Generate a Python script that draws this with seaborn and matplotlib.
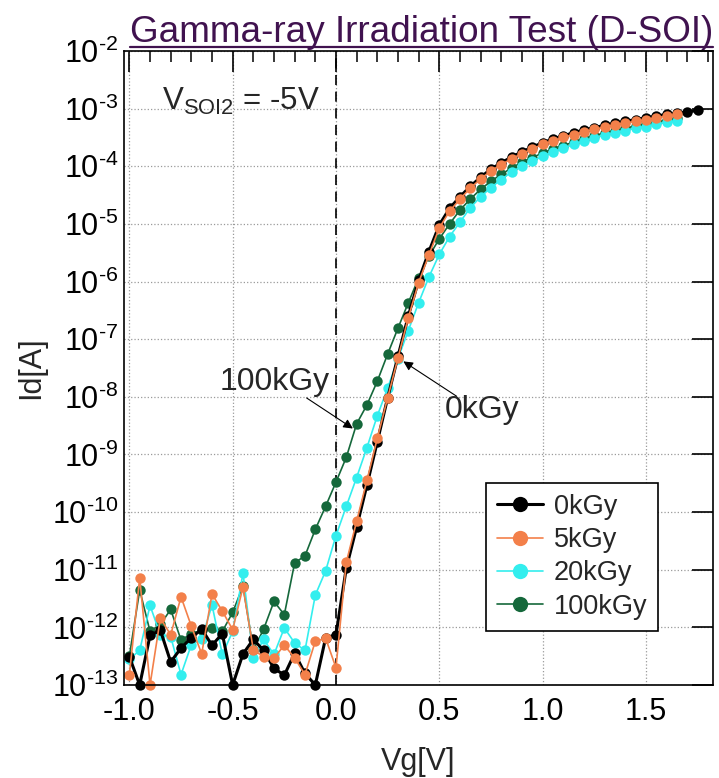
import numpy as np
import pandas as pd
import matplotlib
matplotlib.use("Agg")
import matplotlib.pyplot as plt
import seaborn as sns
from matplotlib.ticker import FixedLocator, FixedFormatter, MultipleLocator
from matplotlib.lines import Line2D

# ---------------- data (log10 of Id[A]) ----------------
vg_black = np.round(np.arange(-20, 36) * 0.05, 2)   # -1.00 .. 1.75 V
vg_other = np.round(np.arange(-20, 34) * 0.05, 2)   # -1.00 .. 1.65 V

log_id_0kGy = [
    -12.51, -13.00, -12.14, -12.05, -12.60, -12.36, -12.18, -12.03, -12.31, -12.11,
    -13.00, -12.46, -12.21, -12.40, -12.71, -12.83, -12.45, -12.80, -13.00, -12.18,
    -12.13, -10.97, -10.26, -9.53, -8.78, -8.02, -7.30, -6.60, -5.98, -5.48,
    -5.02, -4.73, -4.53, -4.35, -4.19, -4.05, -3.94, -3.84, -3.75, -3.67,
    -3.59, -3.53, -3.47, -3.42, -3.37, -3.33, -3.29, -3.25, -3.22, -3.19,
    -3.16, -3.13, -3.10, -3.08, -3.06, -3.03]

log_id_5kGy = [
    -12.82, -11.14, -13.00, -11.84, -12.13, -11.47, -11.98, -12.46, -11.42, -11.72,
    -12.04, -11.30, -12.39, -12.51, -12.53, -12.31, -12.53, -12.82, -12.24, -12.19,
    -12.70, -10.87, -10.16, -9.45, -8.72, -8.02, -7.33, -6.63, -6.02, -5.54,
    -5.07, -4.78, -4.57, -4.38, -4.22, -4.08, -3.97, -3.87, -3.78, -3.70,
    -3.62, -3.56, -3.50, -3.45, -3.40, -3.36, -3.32, -3.28, -3.25, -3.22,
    -3.19, -3.16, -3.13, -3.10]

log_id_20kGy = [
    -12.55, -12.40, -11.62, -12.13, -12.16, -12.82, -12.30, -12.21, -11.61, -12.47,
    -12.07, -11.06, -12.53, -12.21, -12.47, -12.01, -12.27, -12.40, -11.44, -11.02,
    -10.41, -9.90, -9.40, -8.88, -8.33, -7.85, -7.34, -6.85, -6.37, -5.92,
    -5.53, -5.22, -4.97, -4.72, -4.53, -4.37, -4.23, -4.10, -4.00, -3.91,
    -3.83, -3.75, -3.69, -3.62, -3.56, -3.51, -3.46, -3.42, -3.38, -3.34,
    -3.31, -3.27, -3.24, -3.21]

log_id_100kGy = [
    -12.50, -11.35, -12.07, -11.95, -11.69, -12.22, -12.11, -12.05, -12.01, -12.07,
    -11.74, -11.28, -12.39, -12.03, -11.55, -11.78, -10.88, -10.76, -10.30, -9.90,
    -9.48, -9.05, -8.47, -8.14, -7.73, -7.26, -6.81, -6.37, -5.94, -5.56,
    -5.26, -5.00, -4.76, -4.57, -4.40, -4.26, -4.14, -4.03, -3.93, -3.85,
    -3.77, -3.70, -3.64, -3.58, -3.52, -3.47, -3.42, -3.38, -3.34, -3.30,
    -3.27, -3.23, -3.20, -3.17]

doses = ["0kGy", "5kGy", "20kGy", "100kGy"]
colors = {"0kGy": "#000000", "5kGy": "#F3804A", "20kGy": "#33EEEE", "100kGy": "#15683B"}
y_exponents = list(range(-13, -1))
x_ticks = [-1.0, -0.5, 0.0, 0.5, 1.0, 1.5]

frames = []
for name, vg, lg in [("0kGy", vg_black, log_id_0kGy), ("5kGy", vg_other, log_id_5kGy),
                     ("20kGy", vg_other, log_id_20kGy), ("100kGy", vg_other, log_id_100kGy)]:
    frames.append(pd.DataFrame({"Vg": vg, "Id": 10.0 ** np.array(lg), "dose": name}))
df = pd.concat(frames, ignore_index=True)

# ---------------- style ----------------
sns.set_theme(style="white")
plt.rcParams["font.family"] = ["Liberation Sans", "DejaVu Sans"]
plt.rcParams["mathtext.fontset"] = "custom"
plt.rcParams["mathtext.rm"] = "Liberation Sans"
plt.rcParams["mathtext.it"] = "Liberation Sans"
plt.rcParams["mathtext.bf"] = "Liberation Sans:bold"
plt.rcParams["axes.unicode_minus"] = False

fig = plt.figure(figsize=(7.19, 7.78), dpi=100)
fig.patch.set_facecolor("white")
ax = fig.add_axes([124 / 719, 1 - 685 / 778, 589 / 719, 634 / 778])

draw_order = ["100kGy", "20kGy", "0kGy", "5kGy"]
lws = {"0kGy": 2.2, "5kGy": 1.2, "20kGy": 1.2, "100kGy": 1.2}
for d in draw_order:
    sub = df[df["dose"] == d]
    sns.lineplot(data=sub, x="Vg", y="Id", ax=ax, color=colors[d], marker="o",
                 markersize=7.5, markeredgewidth=0, linewidth=lws[d],
                 estimator=None, sort=False, legend=False)
for ln in ax.lines:
    ln.set_clip_on(False)

ax.set_yscale("log")
ax.set_xlim(-1.026, 1.825)
ax.set_ylim(1e-13, 1e-2)

ax.axvline(0.0, color="black", lw=1.2, ls=(0, (6, 4)), zorder=1)

ax.xaxis.set_major_locator(FixedLocator(x_ticks))
ax.xaxis.set_major_formatter(FixedFormatter([f"{v:.1f}" for v in x_ticks]))
ax.xaxis.set_minor_locator(MultipleLocator(0.1))
ax.yaxis.set_major_locator(FixedLocator([10.0 ** e for e in y_exponents]))
ax.yaxis.set_major_formatter(FixedFormatter([r"$10^{\text{-}%d}$" % (-e) for e in y_exponents]))
ax.yaxis.set_minor_locator(FixedLocator([]))

ax.tick_params(which="both", direction="in", top=True, right=True, colors="black")
ax.tick_params(which="major", length=15, width=1.2)
ax.tick_params(which="minor", length=8, width=1.1)
ax.tick_params(axis="x", which="major", labelsize=22, pad=9)
ax.tick_params(axis="y", which="major", labelsize=22, pad=4)
for s in ax.spines.values():
    s.set_color("black")
    s.set_linewidth(1.2)

ax.grid(True, which="major", ls=":", color="#9a9a9a", lw=0.9)
ax.set_axisbelow(True)

ax.set_xlabel("Vg[V]", fontsize=22, labelpad=14)
ax.set_ylabel("Id[A]", fontsize=22, labelpad=4)

# annotations
ax.text(-0.842, 10 ** -3.02, r"V$_{\mathrm{SOI2}}$ = -5V", fontsize=22.5, va="baseline", ha="left")
ax.text(-0.561, 10 ** -7.74, "100kGy", fontsize=23, va="center", ha="left")
ax.text(0.528, 10 ** -8.23, "0kGy", fontsize=23, va="center", ha="left")
arrow = dict(arrowstyle="-|>", color="black", lw=0.8, mutation_scale=14, shrinkA=0, shrinkB=0)
ax.annotate("", xy=(0.082, 10 ** -8.55), xytext=(-0.142, 10 ** -8.02), arrowprops=arrow)
ax.annotate("", xy=(0.326, 10 ** -7.385), xytext=(0.584, 10 ** -7.99), arrowprops=arrow)

# legend
handles = [Line2D([], [], color=colors[d], marker="o", markersize=11, markeredgewidth=0,
                  lw=2.2 if d == "0kGy" else 1.2) for d in doses]
leg = ax.legend(handles, doses, loc="upper left", bbox_to_anchor=(0.6146, 0.3186),
                fontsize=19.5, frameon=True, fancybox=False, framealpha=1,
                edgecolor="black", handlelength=1.7, handletextpad=0.4,
                labelspacing=0.27, borderpad=0.4, borderaxespad=0)
leg.get_frame().set_linewidth(1.2)

# title with underline
title_color = "#40124F"
t = fig.text(130 / 719, 1 - 42 / 778, "Gamma-ray Irradiation Test (D-SOI)",
             fontsize=26.6, color=title_color, ha="left", va="baseline")
fig.canvas.draw()
bb = t.get_window_extent().transformed(fig.transFigure.inverted())
yl = 1 - 47 / 778
fig.add_artist(Line2D([bb.x0, bb.x1], [yl, yl], color=title_color, lw=1.6,
                      transform=fig.transFigure))

fig.savefig("out.png", dpi=100, facecolor="white")
